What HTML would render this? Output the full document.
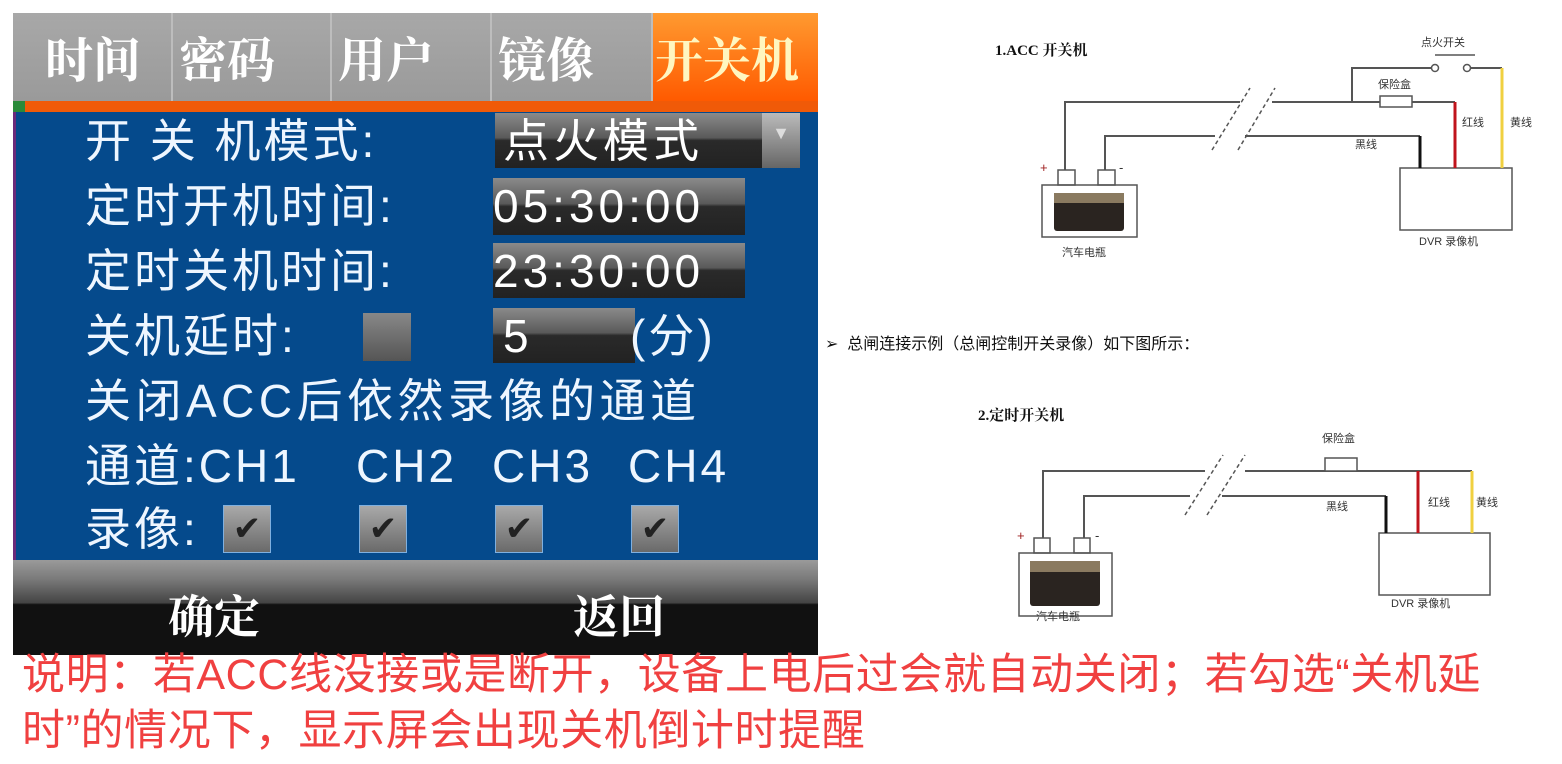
<!DOCTYPE html>
<html><head><meta charset="utf-8"><style>
*{margin:0;padding:0;box-sizing:border-box}
body{width:1562px;height:764px;background:#fff;position:relative;overflow:hidden;font-family:"Liberation Sans","Noto Sans CJK SC",sans-serif}
.a{position:absolute;white-space:nowrap}
.scr{position:absolute;left:13px;top:13px;width:805px;height:642px;background:#054a8c;overflow:hidden}
.tab{position:absolute;top:0;height:88px;background:linear-gradient(#a8a8a8,#9a9a9a);border-right:2px solid #bdbdbd;color:#fff;font-size:48px;line-height:88px;font-family:"Noto Serif CJK SC",serif;font-weight:bold;padding-left:28px}
.lbl{position:absolute;white-space:nowrap;color:#eef6ff;font-size:46px;font-family:"Liberation Sans","Noto Sans CJK SC",sans-serif;line-height:1;letter-spacing:3px}
.fld{position:absolute;background:linear-gradient(#8a8a8a 0%,#5a5a5a 45%,#2a2a2a 50%,#222 100%);color:#fff;font-size:46px;line-height:56px;letter-spacing:4px}
.cb{position:absolute;width:48px;height:48px;background:linear-gradient(#a9a9a9,#6a6a6a);border:1px solid #7fb0e0;color:#222;font-size:34px;text-align:center;line-height:46px}
.d{font-family:"Liberation Sans","Noto Sans CJK SC",sans-serif;font-size:11px;fill:#333}
</style></head><body>
<div class="scr">
 <div class="tab" style="left:0;width:160px;padding-left:32px">时间</div>
 <div class="tab" style="left:160px;width:159px;padding-left:6px">密码</div>
 <div class="tab" style="left:319px;width:160px;padding-left:6px">用户</div>
 <div class="tab" style="left:479px;width:161px;padding-left:6px">镜像</div>
 <div class="a" style="left:640px;top:0;width:165px;height:88px;background:linear-gradient(#ff9a30,#ff5a00);color:#fff6c0;font-size:48px;line-height:88px;font-family:'Noto Serif CJK SC',serif;font-weight:bold;padding-left:2px">开关机</div>
 <div class="a" style="left:0;top:88px;width:805px;height:11px;background:#f05a08"></div>
 <div class="a" style="left:0;top:88px;width:12px;height:11px;background:#2a8a3a"></div>
 <div class="a" style="left:0;top:99px;width:3px;height:448px;background:#6a2a7a"></div>
 <div class="lbl" style="left:72px;top:105px">开 关 机模式:</div>
 <div class="fld" style="left:482px;top:100px;width:267px;height:55px;padding-left:8px">点火模式</div>
 <div class="a" style="left:749px;top:100px;width:38px;height:55px;background:linear-gradient(#bbb,#666);color:#ddd;font-size:18px;text-align:center;line-height:40px">▼</div>
 <div class="lbl" style="left:72px;top:170px">定时开机时间:</div>
 <div class="fld" style="left:480px;top:165px;width:252px;height:57px">05:30:00</div>
 <div class="lbl" style="left:72px;top:235px">定时关机时间:</div>
 <div class="fld" style="left:480px;top:230px;width:252px;height:55px">23:30:00</div>
 <div class="lbl" style="left:72px;top:300px">关机延时:</div>
 <div class="a" style="left:350px;top:300px;width:48px;height:48px;background:linear-gradient(#888,#555)"></div>
 <div class="fld" style="left:480px;top:295px;width:142px;height:55px;padding-left:10px">5</div>
 <div class="lbl" style="left:617px;top:300px">(分)</div>
 <div class="lbl" style="left:72px;top:365px;letter-spacing:4.5px">关闭ACC后依然录像的通道</div>
 <div class="lbl" style="left:72px;top:430px">通道:CH1</div>
 <div class="lbl" style="left:343px;top:430px">CH2</div>
 <div class="lbl" style="left:479px;top:430px">CH3</div>
 <div class="lbl" style="left:615px;top:430px">CH4</div>
 <div class="lbl" style="left:72px;top:493px">录像:</div>
 <div class="cb" style="left:210px;top:492px">✔</div>
 <div class="cb" style="left:346px;top:492px">✔</div>
 <div class="cb" style="left:482px;top:492px">✔</div>
 <div class="cb" style="left:618px;top:492px">✔</div>
 <div class="a" style="left:0;top:547px;width:805px;height:95px;background:linear-gradient(#9a9a9a 0%,#7a7a7a 20%,#444 45%,#111 47%,#111 100%)"></div>
 <div class="a" style="left:155px;top:568px;color:#fff;font-size:46px;font-weight:bold;font-family:'Noto Serif CJK SC',serif">确定</div>
 <div class="a" style="left:560px;top:568px;color:#fff;font-size:46px;font-weight:bold;font-family:'Noto Serif CJK SC',serif">返回</div>
</div>
<div class="a" style="left:22px;top:647px;color:#f04040;font-size:43px;line-height:56px;letter-spacing:0.6px">说明：若ACC线没接或是断开，设备上电后过会就自动关闭；若勾选“关机延<br>时”的情况下，显示屏会出现关机倒计时提醒</div>
<div class="a" style="left:825px;top:330px;font-size:16px;color:#111">➢&nbsp; 总闸连接示例（总闸控制开关录像）如下图所示：</div>
<svg class="a" style="left:0;top:0" width="1562" height="764">
 <g fill="none" stroke="#555" stroke-width="2">
  <polyline points="1065,170 1065,102 1240,102"/>
  <polyline points="1272,102 1455,102"/>
  <polyline points="1105,170 1105,136 1215,136"/>
  <polyline points="1245,136 1420,136"/>
  <polyline points="1352,102 1352,68 1431,68"/>
  <polyline points="1471,68 1502,68"/>
  <line x1="1435" y1="55" x2="1475" y2="55" stroke-width="1.5"/>
  <rect x="1380" y="96" width="32" height="11" fill="#fff" stroke-width="1.5"/>
  <circle cx="1435" cy="68" r="3.5" fill="#fff" stroke-width="1.5"/>
  <circle cx="1467" cy="68" r="3.5" fill="#fff" stroke-width="1.5"/>
  <line x1="1212" y1="150" x2="1250" y2="88" stroke-dasharray="4,3" stroke-width="1.5"/>
  <line x1="1238" y1="150" x2="1275" y2="88" stroke-dasharray="4,3" stroke-width="1.5"/>
  <rect x="1058" y="170" width="17" height="15" stroke-width="1.5"/>
  <rect x="1098" y="170" width="17" height="15" stroke-width="1.5"/>
  <rect x="1042" y="185" width="95" height="52" stroke-width="1.5"/>
  <rect x="1400" y="168" width="112" height="62" stroke-width="1.5"/>
  <polyline points="1043,538 1043,471 1205,471"/>
  <polyline points="1245,471 1472,471"/>
  <polyline points="1084,538 1084,496 1190,496"/>
  <polyline points="1222,496 1386,496"/>
  <rect x="1325" y="458" width="32" height="13" fill="#fff" stroke-width="1.5"/>
  <line x1="1185" y1="515" x2="1223" y2="455" stroke-dasharray="4,3" stroke-width="1.5"/>
  <line x1="1207" y1="515" x2="1245" y2="455" stroke-dasharray="4,3" stroke-width="1.5"/>
  <rect x="1034" y="538" width="16" height="15" stroke-width="1.5"/>
  <rect x="1074" y="538" width="16" height="15" stroke-width="1.5"/>
  <rect x="1019" y="553" width="93" height="63" stroke-width="1.5"/>
  <rect x="1379" y="533" width="111" height="62" stroke-width="1.5"/>
 </g>
 <g stroke-width="3">
  <line x1="1455" y1="102" x2="1455" y2="168" stroke="#c0141c"/>
  <line x1="1502" y1="68" x2="1502" y2="168" stroke="#f0d040"/>
  <line x1="1420" y1="136" x2="1420" y2="168" stroke="#111"/>
  <line x1="1418" y1="471" x2="1418" y2="533" stroke="#c0141c"/>
  <line x1="1472" y1="471" x2="1472" y2="533" stroke="#f0d040"/>
  <line x1="1386" y1="496" x2="1386" y2="533" stroke="#111"/>
 </g>
 <rect x="1054" y="193" width="70" height="38" fill="#2a2420" rx="3"/>
 <rect x="1054" y="193" width="70" height="10" fill="#8a7a60"/>
 <rect x="1030" y="561" width="70" height="45" fill="#2a2420" rx="3"/>
 <rect x="1030" y="561" width="70" height="11" fill="#8a7a60"/>
 <text x="995" y="55" style="font-family:'Liberation Serif','Noto Serif CJK SC',serif;font-size:15px;font-weight:bold" fill="#111">1.ACC 开关机</text>
 <text x="978" y="420" style="font-family:'Liberation Serif','Noto Serif CJK SC',serif;font-size:15px;font-weight:bold" fill="#111">2.定时开关机</text>
 <g class="d">
  <text x="1421" y="46" class="d">点火开关</text>
  <text x="1378" y="88" class="d">保险盒</text>
  <text x="1355" y="148" class="d">黑线</text>
  <text x="1462" y="126" class="d">红线</text>
  <text x="1510" y="126" class="d">黄线</text>
  <text x="1040" y="172" fill="#a02020" style="font-size:13px">+</text>
  <text x="1119" y="172" style="font-size:13px">-</text>
  <text x="1062" y="256" class="d">汽车电瓶</text>
  <text x="1419" y="245" class="d">DVR 录像机</text>
  <text x="1322" y="442" class="d">保险盒</text>
  <text x="1326" y="510" class="d">黑线</text>
  <text x="1428" y="506" class="d">红线</text>
  <text x="1476" y="506" class="d">黄线</text>
  <text x="1017" y="540" fill="#a02020" style="font-size:13px">+</text>
  <text x="1095" y="540" style="font-size:13px">-</text>
  <text x="1036" y="620" class="d">汽车电瓶</text>
  <text x="1391" y="607" class="d">DVR 录像机</text>
 </g>
</svg>
</body></html>
